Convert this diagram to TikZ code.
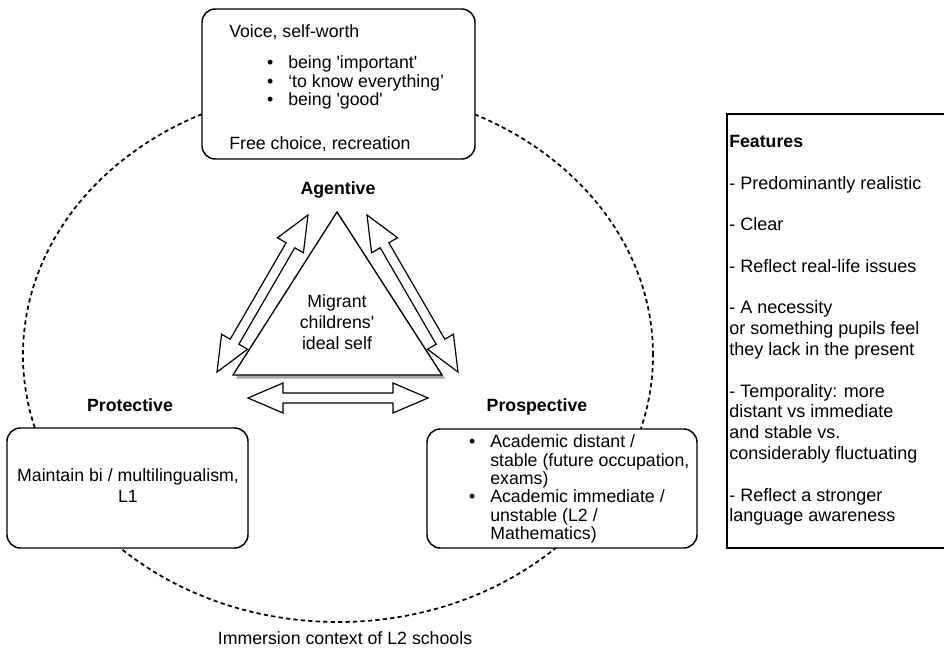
\documentclass[tikz,border=0pt]{standalone}
\usepackage{fontspec}
\setmainfont{Liberation Sans}
\usetikzlibrary{calc}
\tikzset{
  txt/.style={inner sep=0pt, font=\fontsize{13.3}{16}\selectfont},
  ftxt/.style={inner sep=0pt, font=\fontsize{13.5}{16}\selectfont},
  bold/.style={txt, font=\fontsize{13.3}{16}\selectfont\bfseries},
  box/.style={draw, line width=1.1pt, rounded corners=10pt, fill=white, inner sep=0pt},
  flexarrow/.style={draw, line width=0.9pt, fill=white, line join=miter},
  context/.style={dash pattern=on 3.2pt off 2.4pt, line width=1.3pt},
}
\newcommand\bul{\llap{\textbullet\hspace{11.25pt}}}
\newcommand\dblarrow[2]{%
  \path[flexarrow] (#1)
    -- ($(#1)!26.25pt!(#2)!11.25pt!90:(#2)$)
    -- ($(#1)!26.25pt!(#2)!3.75pt!90:(#2)$)
    -- ($(#2)!26.25pt!(#1)!3.75pt!-90:(#1)$)
    -- ($(#2)!26.25pt!(#1)!11.25pt!-90:(#1)$)
    -- (#2)
    -- ($(#2)!26.25pt!(#1)!11.25pt!90:(#1)$)
    -- ($(#2)!26.25pt!(#1)!3.75pt!90:(#1)$)
    -- ($(#1)!26.25pt!(#2)!3.75pt!-90:(#2)$)
    -- ($(#1)!26.25pt!(#2)!11.25pt!-90:(#2)$)
    -- cycle;}
\begin{document}
\begin{tikzpicture}[x=0.75pt, y=-0.75pt]
\useasboundingbox (0,0) rectangle (944,648);

% immersion context (dashed ellipse)
\draw[context] (338,355) ellipse [x radius=236.25pt, y radius=200.25pt];
\node[txt, anchor=mid] (immersion) at (345,641) {Immersion context of L2 schools};

% Agentive box
\node[box, minimum width=204.75pt, minimum height=112.5pt] (agbox) at (338.5,84) {};
\node[txt, anchor=mid west] (ag0) at (229,34) {Voice, self-worth};
\node[txt, anchor=mid west] (ag1) at (288,65) {\bul being \textquotesingle important\textquotesingle};
\node[txt, anchor=mid west] (ag2) at (288,84) {\bul ‘to know everything’};
\node[txt, anchor=mid west] (ag3) at (288,102) {\bul being \textquotesingle good\textquotesingle};
\node[txt, anchor=mid west] (ag4) at (229,146) {Free choice, recreation};
\node[bold, anchor=mid] (agentive) at (338,191) {Agentive};

% triangle
\coordinate (tA) at (337,212);
\coordinate (tL) at (233,375);
\coordinate (tR) at (442,375);
\fill[black!35] ($(tA)+(3,3.5)$) -- ($(tL)+(3,3.5)$) -- ($(tR)+(3,3.5)$) -- cycle;
\draw[line width=1pt, fill=white, line join=miter] (tA) -- (tL) -- (tR) -- cycle;
\node[txt, anchor=mid] (mig1) at (337,304) {Migrant};
\node[txt, anchor=mid] (mig2) at (337,325) {childrens\textquotesingle};
\node[txt, anchor=mid] (mig3) at (337,346) {ideal self};

% double arrows
\coordinate (la1) at (217,372);
\coordinate (la2) at (308,215);
\coordinate (ra1) at (367,215);
\coordinate (ra2) at (458,372);
\coordinate (ba1) at (248,398);
\coordinate (ba2) at (428,398);
\dblarrow{la1}{la2}
\dblarrow{ra1}{ra2}
\dblarrow{ba1}{ba2}

% Protective
\node[bold, anchor=mid] (protective) at (130,408) {Protective};
\node[box, minimum width=180.75pt, minimum height=90pt] (prbox) at (127.5,488) {};
\node[txt, anchor=mid] (pr1) at (128,478) {Maintain bi / multilingualism,};
\node[txt, anchor=mid] (pr2) at (128,499) {L1};

% Prospective
\node[bold, anchor=mid] (prospective) at (537,408) {Prospective};
\node[box, minimum width=202.5pt, minimum height=89.25pt] (psbox) at (562,488.5) {};
\node[txt, anchor=mid west] (ps1) at (490,444) {\bul Academic distant /};
\node[txt, anchor=mid west] (ps2) at (490,462.5) {stable (future occupation,};
\node[txt, anchor=mid west] (ps3) at (490,481) {exams)};
\node[txt, anchor=mid west] (ps4) at (490,499) {\bul Academic immediate /};
\node[txt, anchor=mid west] (ps5) at (490,517.5) {unstable (L2 /};
\node[txt, anchor=mid west] (ps6) at (490,536) {Mathematics)};

% Features
\draw[line width=1.1pt] (944,114) -- (727,114) -- (727,548) -- (944,548);
\node[bold, anchor=mid west] (f0) at (729,144) {Features};
\node[ftxt, anchor=mid west] (f1) at (729,185.6) {- Predominantly realistic};
\node[ftxt, anchor=mid west] (f2) at (729,227.2) {- Clear};
\node[ftxt, anchor=mid west] (f3) at (729,268.8) {- Reflect real-life issues};
\node[ftxt, anchor=mid west] (f4) at (729,310.4) {- A necessity};
\node[ftxt, anchor=mid west] (f5) at (729,331.2) {or something pupils feel};
\node[ftxt, anchor=mid west] (f6) at (729,352) {they lack in the present};
\node[ftxt, anchor=mid west] (f7) at (729,393.6) {- Temporality: more};
\node[ftxt, anchor=mid west] (f8) at (729,414.4) {distant vs immediate};
\node[ftxt, anchor=mid west] (f9) at (729,435.2) {and stable vs.};
\node[ftxt, anchor=mid west] (f10) at (729,456) {considerably fluctuating};
\node[ftxt, anchor=mid west] (f11) at (729,497.6) {- Reflect a stronger};
\node[ftxt, anchor=mid west] (f12) at (729,518.4) {language awareness};
\end{tikzpicture}
\end{document}
